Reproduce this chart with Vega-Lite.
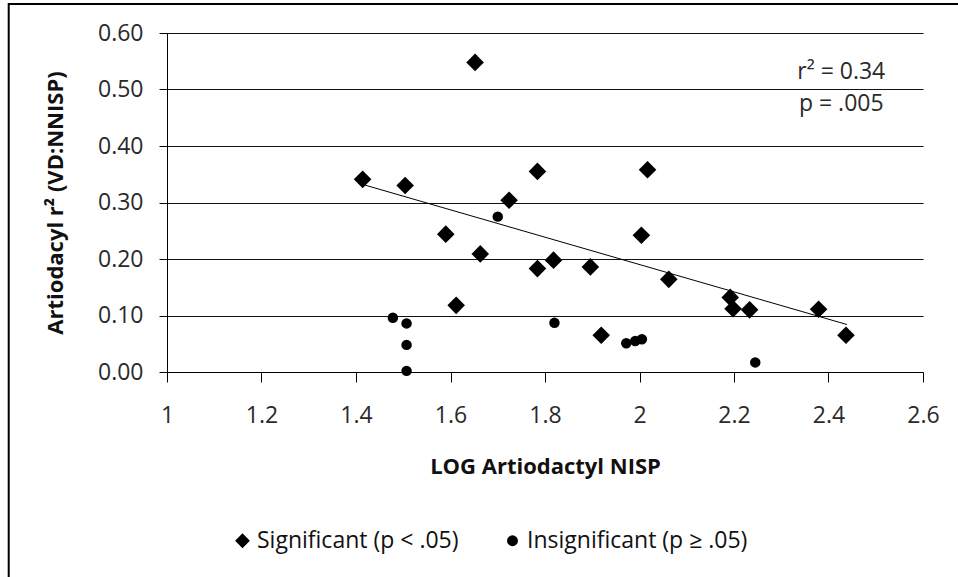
{
  "$schema": "https://vega.github.io/schema/vega-lite/v6.json",
  "width": 756,
  "height": 339,
  "autosize": {"type": "none"},
  "padding": {"left": 167, "top": 33, "right": 35, "bottom": 205},
  "background": "white",
  "config": {
    "font": "Open Sans",
    "view": {"stroke": null},
    "axis": {
      "labelFontSize": 23,
      "labelColor": "#2a2a2a",
      "titleFontSize": 22,
      "titleFontWeight": "bold",
      "titleColor": "#111",
      "domainColor": "#000",
      "domainWidth": 1,
      "tickColor": "#000",
      "tickWidth": 1,
      "labelFlush": false,
      "labelOverlap": false
    },
    "legend": {
      "orient": "none",
      "legendX": 64,
      "legendY": 496,
      "direction": "horizontal",
      "labelFontSize": 23,
      "labelColor": "#111",
      "labelLimit": 0,
      "labelOffset": 3,
      "columnPadding": 42,
      "padding": 0,
      "symbolSize": 120,
      "symbolStrokeWidth": 0,
      "symbolFillColor": "#000"
    }
  },
  "datasets": {
    "samples": [
      {"logNisp": 1.414, "r2": 0.341, "group": "Significant (p < .05)"},
      {"logNisp": 1.504, "r2": 0.330, "group": "Significant (p < .05)"},
      {"logNisp": 1.590, "r2": 0.244, "group": "Significant (p < .05)"},
      {"logNisp": 1.612, "r2": 0.118, "group": "Significant (p < .05)"},
      {"logNisp": 1.652, "r2": 0.548, "group": "Significant (p < .05)"},
      {"logNisp": 1.663, "r2": 0.209, "group": "Significant (p < .05)"},
      {"logNisp": 1.724, "r2": 0.304, "group": "Significant (p < .05)"},
      {"logNisp": 1.784, "r2": 0.355, "group": "Significant (p < .05)"},
      {"logNisp": 1.784, "r2": 0.183, "group": "Significant (p < .05)"},
      {"logNisp": 1.818, "r2": 0.198, "group": "Significant (p < .05)"},
      {"logNisp": 1.896, "r2": 0.186, "group": "Significant (p < .05)"},
      {"logNisp": 1.919, "r2": 0.065, "group": "Significant (p < .05)"},
      {"logNisp": 2.004, "r2": 0.242, "group": "Significant (p < .05)"},
      {"logNisp": 2.017, "r2": 0.358, "group": "Significant (p < .05)"},
      {"logNisp": 2.062, "r2": 0.164, "group": "Significant (p < .05)"},
      {"logNisp": 2.192, "r2": 0.132, "group": "Significant (p < .05)"},
      {"logNisp": 2.198, "r2": 0.112, "group": "Significant (p < .05)"},
      {"logNisp": 2.233, "r2": 0.110, "group": "Significant (p < .05)"},
      {"logNisp": 2.379, "r2": 0.111, "group": "Significant (p < .05)"},
      {"logNisp": 2.437, "r2": 0.065, "group": "Significant (p < .05)"},
      {"logNisp": 1.478, "r2": 0.096, "group": "Insignificant (p ≥ .05)"},
      {"logNisp": 1.507, "r2": 0.086, "group": "Insignificant (p ≥ .05)"},
      {"logNisp": 1.507, "r2": 0.048, "group": "Insignificant (p ≥ .05)"},
      {"logNisp": 1.507, "r2": 0.002, "group": "Insignificant (p ≥ .05)"},
      {"logNisp": 1.700, "r2": 0.275, "group": "Insignificant (p ≥ .05)"},
      {"logNisp": 1.820, "r2": 0.087, "group": "Insignificant (p ≥ .05)"},
      {"logNisp": 1.972, "r2": 0.051, "group": "Insignificant (p ≥ .05)"},
      {"logNisp": 1.991, "r2": 0.055, "group": "Insignificant (p ≥ .05)"},
      {"logNisp": 2.005, "r2": 0.058, "group": "Insignificant (p ≥ .05)"},
      {"logNisp": 2.245, "r2": 0.017, "group": "Insignificant (p ≥ .05)"}
    ],
    "trend": [
      {"logNisp": 1.414, "r2": 0.332},
      {"logNisp": 2.439, "r2": 0.084}
    ]
  },
  "layer": [
    {
      "description": "chart frame; its right and bottom edges fall outside the canvas",
      "data": {"values": [{}]},
      "mark": {"type": "rect", "fill": null, "stroke": "#000", "strokeWidth": 2, "clip": false},
      "encoding": {
        "x": {"datum": 0.665, "type": "quantitative", "title": "LOG Artiodactyl NISP"},
        "x2": {"datum": 2.8},
        "y": {"datum": 0.6515, "type": "quantitative", "title": "Artiodacyl r² (VD:NNISP)"},
        "y2": {"datum": -0.45}
      }
    },
    {
      "description": "insignificant samples (small circles)",
      "data": {"name": "samples"},
      "transform": [{"filter": "datum.group === 'Insignificant (p ≥ .05)'"}],
      "mark": {"type": "point", "filled": true, "opacity": 1, "strokeWidth": 0, "color": "#000", "size": 110},
      "encoding": {
        "x": {
          "field": "logNisp",
          "type": "quantitative",
          "title": "LOG Artiodactyl NISP",
          "scale": {"domain": [1, 2.6], "nice": false, "zero": false},
          "axis": {
            "values": [1, 1.2, 1.4, 1.6, 1.8, 2, 2.2, 2.4, 2.6],
            "format": "~g",
            "grid": false,
            "tickSize": 10,
            "labelPadding": 22,
            "titlePadding": 29
          }
        },
        "y": {
          "field": "r2",
          "type": "quantitative",
          "title": "Artiodacyl r² (VD:NNISP)",
          "scale": {"domain": [0, 0.6], "nice": false, "zero": false},
          "axis": {
            "values": [0, 0.1, 0.2, 0.3, 0.4, 0.5, 0.6],
            "format": ".2f",
            "grid": true,
            "gridColor": "#111",
            "gridWidth": 1,
            "tickSize": 8,
            "labelPadding": 16,
            "titlePadding": 30
          }
        },
        "shape": {
          "field": "group",
          "type": "nominal",
          "title": null,
          "scale": {
            "domain": ["Significant (p < .05)", "Insignificant (p ≥ .05)"],
            "range": ["M-1.35,0L0,-1.35L1.35,0L0,1.35Z", "circle"]
          }
        }
      }
    },
    {
      "description": "significant samples (large diamonds, enlarged diamond path)",
      "data": {"name": "samples"},
      "transform": [{"filter": "datum.group === 'Significant (p < .05)'"}],
      "mark": {"type": "point", "filled": true, "opacity": 1, "strokeWidth": 0, "color": "#000", "size": 170},
      "encoding": {
        "x": {"field": "logNisp", "type": "quantitative", "title": "LOG Artiodactyl NISP"},
        "y": {"field": "r2", "type": "quantitative", "title": "Artiodacyl r² (VD:NNISP)"},
        "shape": {"field": "group", "type": "nominal", "title": null}
      }
    },
    {
      "data": {"name": "trend"},
      "mark": {"type": "line", "color": "#000", "strokeWidth": 1},
      "encoding": {
        "x": {"field": "logNisp", "type": "quantitative", "title": "LOG Artiodactyl NISP"},
        "y": {"field": "r2", "type": "quantitative", "title": "Artiodacyl r² (VD:NNISP)"}
      }
    },
    {
      "data": {"values": [{}]},
      "mark": {
        "type": "text",
        "text": ["r² = 0.34", "p = .005"],
        "align": "center",
        "baseline": "alphabetic",
        "fontSize": 23,
        "lineHeight": 32,
        "color": "#2a2a2a"
      },
      "encoding": {
        "x": {"datum": 2.427, "type": "quantitative", "title": "LOG Artiodactyl NISP"},
        "y": {"datum": 0.519, "type": "quantitative", "title": "Artiodacyl r² (VD:NNISP)"}
      }
    }
  ]
}
